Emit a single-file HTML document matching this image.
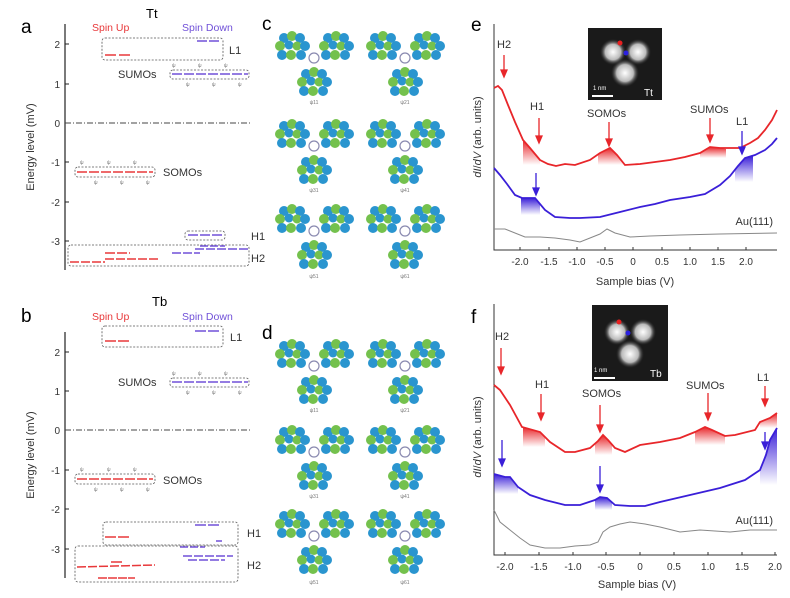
<!DOCTYPE html>
<html><head><meta charset="utf-8"><style>
body{margin:0;background:#fff}
svg{display:block;font-family:"Liberation Sans",sans-serif}
</style></head><body>
<svg width="790" height="598" viewBox="0 0 790 598" xmlns="http://www.w3.org/2000/svg">
<defs>
<linearGradient id="gr" x1="0" y1="0" x2="0" y2="1"><stop offset="0" stop-color="#e8262a"/><stop offset="1" stop-color="#e8262a" stop-opacity="0"/></linearGradient>
<linearGradient id="gb" x1="0" y1="0" x2="0" y2="1"><stop offset="0" stop-color="#3a1fd8"/><stop offset="1" stop-color="#3a1fd8" stop-opacity="0"/></linearGradient>
<radialGradient id="blob"><stop offset="0" stop-color="#fff"/><stop offset="0.6" stop-color="#bbb"/><stop offset="1" stop-color="#333" stop-opacity="0"/></radialGradient>
<g id="lobe">
<circle cx="-8" cy="-8" r="5" fill="#2a95cf"/><circle cx="0" cy="-10" r="5" fill="#74c14d"/><circle cx="8" cy="-8" r="5" fill="#2a95cf"/>
<circle cx="-12" cy="0" r="5" fill="#74c14d"/><circle cx="-3" cy="-1" r="4.5" fill="#2a95cf"/><circle cx="5" cy="0" r="4.5" fill="#74c14d"/><circle cx="13" cy="0" r="5" fill="#2a95cf"/>
<circle cx="-10" cy="9" r="5" fill="#2a95cf"/><circle cx="-1" cy="9" r="5" fill="#74c14d"/><circle cx="9" cy="9" r="5" fill="#2a95cf"/>
</g>
<g id="mol">
<use href="#lobe" x="-22" y="-12"/><use href="#lobe" x="22" y="-12"/><use href="#lobe" x="0" y="24"/>
<circle cx="0" cy="0" r="5" fill="none" stroke="#8a8ab0" stroke-width="1.2"/>
</g>
</defs>

<!-- Panel a -->
<text x="21" y="33" font-size="19">a</text>
<text x="146" y="18" font-size="13">Tt</text>
<text x="92" y="31" font-size="10.5" fill="#e8383a">Spin Up</text>
<text x="182" y="31" font-size="10.5" fill="#7050d8">Spin Down</text>
<line x1="65" y1="24" x2="65" y2="270" stroke="#222" stroke-width="1.2"/>
<g stroke="#222" stroke-width="1"><line x1="65" y1="44" x2="69" y2="44"/><line x1="65" y1="84" x2="69" y2="84"/><line x1="65" y1="123" x2="69" y2="123"/><line x1="65" y1="162" x2="69" y2="162"/><line x1="65" y1="202" x2="69" y2="202"/><line x1="65" y1="241" x2="69" y2="241"/></g>
<g font-size="10" text-anchor="end" fill="#333"><text x="60" y="48">2</text><text x="60" y="88">1</text><text x="60" y="127">0</text><text x="60" y="166">-1</text><text x="60" y="206">-2</text><text x="60" y="245">-3</text></g>
<text transform="translate(34,147) rotate(-90)" font-size="11" text-anchor="middle" fill="#333">Energy level (mV)</text>
<line x1="65" y1="123" x2="250" y2="123" stroke="#444" stroke-dasharray="6,2,1,2"/>
<g fill="none" stroke="#555" stroke-dasharray="2,1.5" stroke-width="0.8">
<rect x="102" y="38" width="121" height="22" rx="3"/><rect x="170" y="70" width="79" height="9" rx="3"/><rect x="75" y="167" width="80" height="10" rx="3"/><rect x="185" y="231" width="40" height="9" rx="3"/><rect x="68" y="245" width="181" height="21" rx="3"/></g>
<g stroke="#e8383a" stroke-width="1.5">
<line x1="105" y1="55" x2="116" y2="55"/><line x1="119" y1="55" x2="130" y2="55"/>
<line x1="77" y1="172" x2="153" y2="172" stroke-dasharray="10,2"/>
<line x1="70" y1="262" x2="105" y2="262" stroke-dasharray="9,2"/><line x1="105" y1="259" x2="160" y2="259" stroke-dasharray="9,2"/><line x1="105" y1="253" x2="130" y2="253" stroke-dasharray="10,2"/>
</g>
<g stroke="#7050d8" stroke-width="1.5">
<line x1="197" y1="41" x2="220" y2="41" stroke-dasharray="10,2"/>
<line x1="172" y1="74" x2="248" y2="74" stroke-dasharray="10,2"/>
<line x1="188" y1="235" x2="222" y2="235" stroke-dasharray="10,2"/>
<line x1="172" y1="253" x2="200" y2="253" stroke-dasharray="9,2"/><line x1="195" y1="249" x2="248" y2="249" stroke-dasharray="9,2"/><line x1="200" y1="246" x2="225" y2="246" stroke-dasharray="8,2"/>
</g>
<g font-size="11" fill="#333"><text x="229" y="54">L1</text><text x="118" y="78">SUMOs</text><text x="163" y="176">SOMOs</text><text x="251" y="240">H1</text><text x="251" y="262">H2</text></g>
<g font-size="5" fill="#777"><text x="172" y="67">ψ</text><text x="198" y="67">ψ</text><text x="224" y="67">ψ</text><text x="186" y="86">ψ</text><text x="212" y="86">ψ</text><text x="238" y="86">ψ</text>
<text x="80" y="164">ψ</text><text x="107" y="164">ψ</text><text x="133" y="164">ψ</text><text x="94" y="184">ψ</text><text x="120" y="184">ψ</text><text x="146" y="184">ψ</text></g>

<!-- Panel b -->
<text x="21" y="322" font-size="19">b</text>
<text x="152" y="306" font-size="13">Tb</text>
<text x="92" y="320" font-size="10.5" fill="#e8383a">Spin Up</text>
<text x="182" y="320" font-size="10.5" fill="#7050d8">Spin Down</text>
<line x1="65" y1="332" x2="65" y2="578" stroke="#222" stroke-width="1.2"/>
<g stroke="#222" stroke-width="1"><line x1="65" y1="352" x2="69" y2="352"/><line x1="65" y1="391" x2="69" y2="391"/><line x1="65" y1="430" x2="69" y2="430"/><line x1="65" y1="470" x2="69" y2="470"/><line x1="65" y1="509" x2="69" y2="509"/><line x1="65" y1="549" x2="69" y2="549"/></g>
<g font-size="10" text-anchor="end" fill="#333"><text x="60" y="356">2</text><text x="60" y="395">1</text><text x="60" y="434">0</text><text x="60" y="474">-1</text><text x="60" y="513">-2</text><text x="60" y="553">-3</text></g>
<text transform="translate(34,455) rotate(-90)" font-size="11" text-anchor="middle" fill="#333">Energy level (mV)</text>
<line x1="65" y1="430" x2="250" y2="430" stroke="#444" stroke-dasharray="6,2,1,2"/>
<g fill="none" stroke="#555" stroke-dasharray="2,1.5" stroke-width="0.8">
<rect x="102" y="326" width="121" height="21" rx="3"/><rect x="170" y="378" width="79" height="9" rx="3"/><rect x="75" y="474" width="80" height="10" rx="3"/><rect x="103" y="522" width="135" height="23" rx="3"/><rect x="75" y="546" width="163" height="36" rx="3"/></g>
<g stroke="#e8383a" stroke-width="1.5">
<line x1="105" y1="341" x2="130" y2="341" stroke-dasharray="11,2"/>
<line x1="77" y1="479" x2="153" y2="479" stroke-dasharray="10,2"/>
<line x1="105" y1="537" x2="130" y2="537" stroke-dasharray="11,2"/>
<line x1="77" y1="567" x2="155" y2="565" stroke-dasharray="9,2"/><line x1="111" y1="562" x2="122" y2="562"/><line x1="98" y1="578" x2="135" y2="578" stroke-dasharray="9,1"/>
</g>
<g stroke="#7050d8" stroke-width="1.5">
<line x1="195" y1="331" x2="220" y2="331" stroke-dasharray="11,2"/>
<line x1="172" y1="382" x2="248" y2="382" stroke-dasharray="10,2"/>
<line x1="195" y1="525" x2="220" y2="525" stroke-dasharray="11,2"/><line x1="216" y1="541" x2="222" y2="541"/><line x1="180" y1="547" x2="205" y2="547" stroke-dasharray="8,2"/>
<line x1="183" y1="556" x2="233" y2="556" stroke-dasharray="9,2"/><line x1="188" y1="560" x2="225" y2="560" stroke-dasharray="9,2"/>
</g>
<g font-size="11" fill="#333"><text x="230" y="341">L1</text><text x="118" y="386">SUMOs</text><text x="163" y="484">SOMOs</text><text x="247" y="537">H1</text><text x="247" y="569">H2</text></g>
<g font-size="5" fill="#777"><text x="172" y="375">ψ</text><text x="198" y="375">ψ</text><text x="224" y="375">ψ</text><text x="186" y="394">ψ</text><text x="212" y="394">ψ</text><text x="238" y="394">ψ</text>
<text x="80" y="471">ψ</text><text x="107" y="471">ψ</text><text x="133" y="471">ψ</text><text x="94" y="491">ψ</text><text x="120" y="491">ψ</text><text x="146" y="491">ψ</text></g>

<!-- Panel c, d -->
<text x="262" y="30" font-size="19">c</text>
<text x="262" y="339" font-size="19">d</text>
<use href="#mol" x="314" y="58"/><use href="#mol" x="405" y="58"/>
<use href="#mol" x="314" y="146"/><use href="#mol" x="405" y="146"/>
<use href="#mol" x="314" y="231"/><use href="#mol" x="405" y="231"/>
<use href="#mol" x="314" y="366"/><use href="#mol" x="405" y="366"/>
<use href="#mol" x="314" y="452"/><use href="#mol" x="405" y="452"/>
<use href="#mol" x="314" y="536"/><use href="#mol" x="405" y="536"/>
<g font-size="5" fill="#777" text-anchor="middle"><text x="314" y="104">ψ11</text><text x="405" y="104">ψ21</text><text x="314" y="192">ψ31</text><text x="405" y="192">ψ41</text><text x="314" y="278">ψ51</text><text x="405" y="278">ψ61</text>
<text x="314" y="412">ψ11</text><text x="405" y="412">ψ21</text><text x="314" y="498">ψ31</text><text x="405" y="498">ψ41</text><text x="314" y="584">ψ51</text><text x="405" y="584">ψ61</text></g>

<!-- Panel e -->
<text x="471" y="31" font-size="19">e</text>
<polyline points="494,24 494,250 777,250" fill="none" stroke="#333" stroke-width="1"/>
<g stroke="#333"><line x1="520" y1="250" x2="520" y2="247"/><line x1="549" y1="250" x2="549" y2="247"/><line x1="577" y1="250" x2="577" y2="247"/><line x1="605" y1="250" x2="605" y2="247"/><line x1="633" y1="250" x2="633" y2="247"/><line x1="662" y1="250" x2="662" y2="247"/><line x1="690" y1="250" x2="690" y2="247"/><line x1="718" y1="250" x2="718" y2="247"/><line x1="746" y1="250" x2="746" y2="247"/></g>
<g font-size="10" text-anchor="middle" fill="#333"><text x="520" y="265">-2.0</text><text x="549" y="265">-1.5</text><text x="577" y="265">-1.0</text><text x="605" y="265">-0.5</text><text x="633" y="265">0</text><text x="662" y="265">0.5</text><text x="690" y="265">1.0</text><text x="718" y="265">1.5</text><text x="746" y="265">2.0</text></g>
<text x="635" y="285" font-size="11" text-anchor="middle" fill="#333">Sample bias (V)</text>
<text transform="translate(481,137) rotate(-90)" font-size="11" text-anchor="middle" fill="#333"><tspan font-style="italic">dI</tspan>/<tspan font-style="italic">dV</tspan> (arb. units)</text>
<polygon points="523,140 530,147 540,160 540,165 523,165" fill="url(#gr)"/>
<polygon points="598,155 603,152 610,148 617,155 625,165 598,165" fill="url(#gr)"/>
<polygon points="700,153 710,147 720,148 726,149 726,158 700,158" fill="url(#gr)"/>
<polygon points="521,198 535,198 540,203 540,215 521,215" fill="url(#gb)"/>
<polygon points="735,170 745,158 753,156 753,182 735,182" fill="url(#gb)"/>
<polyline points="494,88 498,86 502,90 508,105 515,122 523,140 530,148 540,160 548,164 556,166 565,164 575,165 590,160 600,153 610,148 617,155 625,165 640,164 655,162 670,160 685,157 700,153 710,147 720,148 740,148 750,143 758,138 765,130 772,120 777,110" fill="none" stroke="#e8262a" stroke-width="1.8"/>
<polyline points="494,168 500,175 507,184 515,195 522,198 535,198 545,210 555,217 570,218 580,218 600,217 620,212 640,207 655,204 670,200 690,197 705,194 720,185 730,176 738,166 745,158 755,155 765,150 772,144 777,138" fill="none" stroke="#3a1fd8" stroke-width="1.8"/>
<polyline points="494,229 505,229 515,233 525,237 540,237 555,238 570,240 580,242 590,238 600,234 607,229 615,233 630,237 650,236 680,235 720,234 777,233" fill="none" stroke="#888" stroke-width="1"/>
<rect x="588" y="28" width="74" height="72" fill="#1a1a1a"/>
<circle cx="613" cy="52" r="13" fill="url(#blob)"/><circle cx="638" cy="52" r="13" fill="url(#blob)"/><circle cx="625" cy="73" r="14" fill="url(#blob)"/>
<circle cx="620" cy="43" r="2.5" fill="#e82020"/><circle cx="626" cy="53" r="2.5" fill="#2a20e0"/>
<line x1="592" y1="96" x2="613" y2="96" stroke="#fff" stroke-width="2"/><text x="593" y="90" font-size="6" fill="#fff">1 nm</text><text x="644" y="96" font-size="10" fill="#fff">Tt</text>
<g font-size="11" fill="#333"><text x="497" y="48">H2</text><text x="530" y="110">H1</text><text x="587" y="117">SOMOs</text><text x="690" y="113">SUMOs</text><text x="736" y="125">L1</text><text x="773" y="225" text-anchor="end">Au(111)</text></g>
<g stroke="#e8262a" stroke-width="1.3" fill="#e8262a">
<line x1="504" y1="55" x2="504" y2="73"/><polygon points="501,70 507,70 504,77"/>
<line x1="539" y1="118" x2="539" y2="139"/><polygon points="536,136 542,136 539,143"/>
<line x1="609" y1="122" x2="609" y2="142"/><polygon points="606,139 612,139 609,146"/>
<line x1="710" y1="118" x2="710" y2="138"/><polygon points="707,135 713,135 710,142"/></g>
<g stroke="#3a1fd8" stroke-width="1.3" fill="#3a1fd8">
<line x1="742" y1="131" x2="742" y2="150"/><polygon points="739,147 745,147 742,154"/>
<line x1="536" y1="173" x2="536" y2="191"/><polygon points="533,188 539,188 536,195"/></g>

<!-- Panel f -->
<text x="471" y="323" font-size="19">f</text>
<polyline points="494,304 494,555 777,555" fill="none" stroke="#333" stroke-width="1"/>
<g stroke="#333"><line x1="505" y1="555" x2="505" y2="552"/><line x1="539" y1="555" x2="539" y2="552"/><line x1="573" y1="555" x2="573" y2="552"/><line x1="606" y1="555" x2="606" y2="552"/><line x1="640" y1="555" x2="640" y2="552"/><line x1="674" y1="555" x2="674" y2="552"/><line x1="708" y1="555" x2="708" y2="552"/><line x1="742" y1="555" x2="742" y2="552"/><line x1="775" y1="555" x2="775" y2="552"/></g>
<g font-size="10" text-anchor="middle" fill="#333"><text x="505" y="570">-2.0</text><text x="539" y="570">-1.5</text><text x="573" y="570">-1.0</text><text x="606" y="570">-0.5</text><text x="640" y="570">0</text><text x="674" y="570">0.5</text><text x="708" y="570">1.0</text><text x="742" y="570">1.5</text><text x="775" y="570">2.0</text></g>
<text x="637" y="588" font-size="11" text-anchor="middle" fill="#333">Sample bias (V)</text>
<text transform="translate(481,437) rotate(-90)" font-size="11" text-anchor="middle" fill="#333"><tspan font-style="italic">dI</tspan>/<tspan font-style="italic">dV</tspan> (arb. units)</text>
<polygon points="523,427 540,432 545,438 545,447 523,447" fill="url(#gr)"/>
<polygon points="595,443 603,435 608,440 612,445 612,455 595,455" fill="url(#gr)"/>
<polygon points="695,432 705,427 712,430 725,436 725,445 695,445" fill="url(#gr)"/>
<polygon points="760,422 770,418 777,413 777,428 760,428" fill="url(#gr)"/>
<polygon points="494,474 505,477 510,477 518,487 518,494 494,494" fill="url(#gb)"/>
<polygon points="595,500 600,497 607,498 612,503 612,510 595,510" fill="url(#gb)"/>
<polygon points="760,470 770,440 777,428 777,485 760,485" fill="url(#gb)"/>
<polyline points="494,385 500,390 510,405 522,427 540,432 550,442 565,452 575,452 590,448 598,441 603,435 608,440 615,448 625,452 640,445 660,442 680,438 695,432 705,427 712,430 725,436 735,435 755,430 760,422 770,418 777,413" fill="none" stroke="#e8262a" stroke-width="1.8"/>
<polyline points="494,474 505,477 510,477 518,487 530,495 545,500 565,505 580,505 595,500 600,497 607,498 615,505 630,506 645,506 660,502 690,495 720,488 745,480 760,470 766,455 770,440 777,428" fill="none" stroke="#3a1fd8" stroke-width="1.8"/>
<polyline points="494,510 500,522 510,530 520,538 530,545 545,548 560,548 575,546 590,545 598,542 603,532 610,527 620,524 630,522 645,524 660,527 680,532 700,530 730,532 750,530 777,530" fill="none" stroke="#888" stroke-width="1"/>
<rect x="592" y="305" width="76" height="76" fill="#1a1a1a"/>
<circle cx="617" cy="332" r="13" fill="url(#blob)"/><circle cx="643" cy="332" r="13" fill="url(#blob)"/><circle cx="630" cy="354" r="14" fill="url(#blob)"/>
<circle cx="619" cy="322" r="2.5" fill="#e82020"/><circle cx="628" cy="333" r="2.5" fill="#2a20e0"/>
<line x1="594" y1="378" x2="615" y2="378" stroke="#fff" stroke-width="2"/><text x="594" y="372" font-size="6" fill="#fff">1 nm</text><text x="650" y="377" font-size="10" fill="#fff">Tb</text>
<g font-size="11" fill="#333"><text x="495" y="340">H2</text><text x="535" y="388">H1</text><text x="582" y="397">SOMOs</text><text x="686" y="389">SUMOs</text><text x="757" y="381">L1</text><text x="773" y="524" text-anchor="end">Au(111)</text></g>
<g stroke="#e8262a" stroke-width="1.3" fill="#e8262a">
<line x1="501" y1="348" x2="501" y2="370"/><polygon points="498,367 504,367 501,374"/>
<line x1="541" y1="394" x2="541" y2="416"/><polygon points="538,413 544,413 541,420"/>
<line x1="600" y1="405" x2="600" y2="428"/><polygon points="597,425 603,425 600,432"/>
<line x1="708" y1="393" x2="708" y2="416"/><polygon points="705,413 711,413 708,420"/>
<line x1="765" y1="386" x2="765" y2="402"/><polygon points="762,399 768,399 765,406"/></g>
<g stroke="#3a1fd8" stroke-width="1.3" fill="#3a1fd8">
<line x1="502" y1="440" x2="502" y2="462"/><polygon points="499,459 505,459 502,466"/>
<line x1="600" y1="466" x2="600" y2="488"/><polygon points="597,485 603,485 600,492"/>
<line x1="765" y1="432" x2="765" y2="445"/><polygon points="762,442 768,442 765,449"/></g>
</svg>
</body></html>
